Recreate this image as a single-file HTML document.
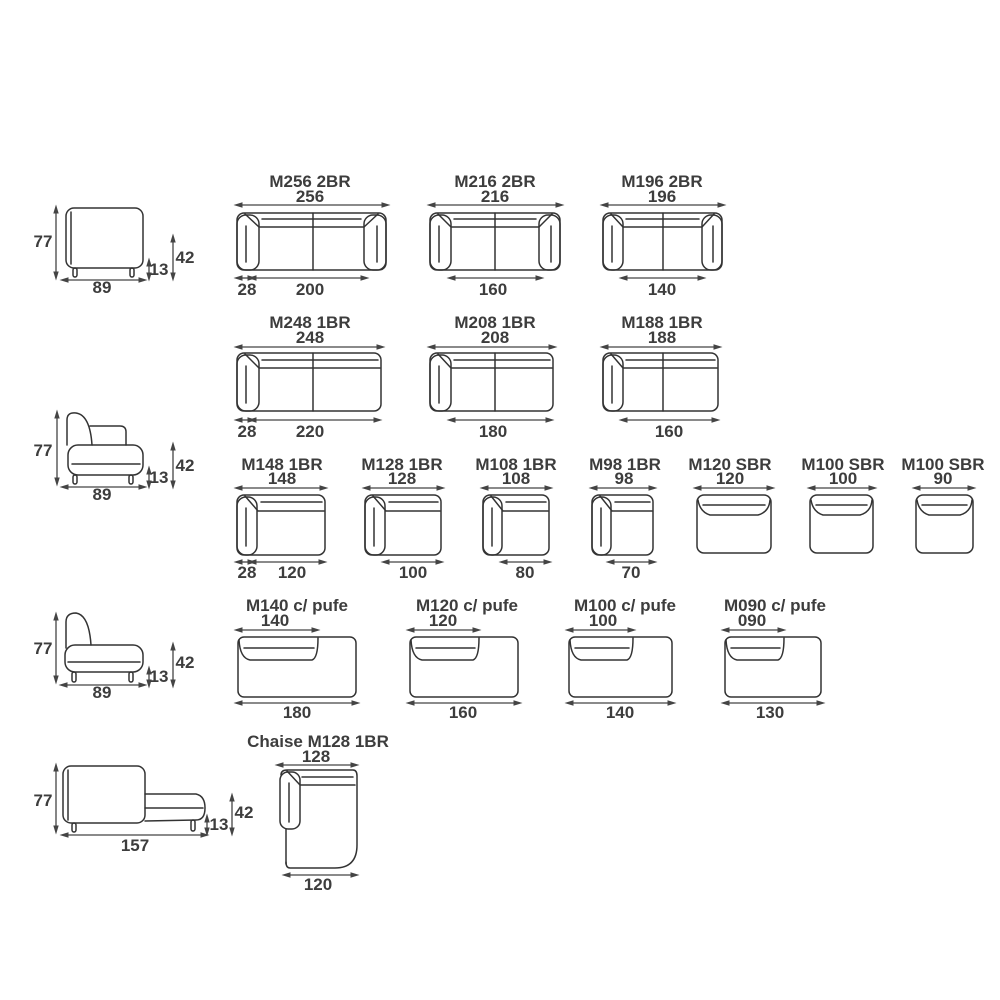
<!DOCTYPE html>
<html><head><meta charset="utf-8"><style>
html,body{margin:0;padding:0;background:#fff;}
svg{display:block}
text{font-family:"Liberation Sans Narrow","Liberation Sans",sans-serif;font-weight:bold;font-size:17px;fill:#3d3d3d;text-anchor:middle}
.s{fill:none;stroke:#333;stroke-width:1.5;stroke-linejoin:round;stroke-linecap:round}
.a{stroke:#444;stroke-width:1.3;marker-start:url(#m);marker-end:url(#m)}
</style></head><body>
<svg width="1000" height="1000" viewBox="0 0 1000 1000">
<defs><marker id="m" viewBox="0 0 10 10" refX="5" refY="5" markerWidth="7" markerHeight="7" orient="auto-start-reverse"><path d="M0,2 L10,5 L0,8 z" fill="#444"/></marker></defs>

<!-- SIDE VIEW 1 -->
<g class="s">
<rect x="66" y="208" width="77" height="60" rx="8"/>
<line x1="71" y1="212" x2="71" y2="264"/>
<rect x="73" y="268" width="4" height="9" rx="2"/>
<rect x="130" y="268" width="4" height="9" rx="2"/>
</g>
<line class="a" x1="56" y1="209" x2="56" y2="276"/>
<line class="a" x1="64" y1="280" x2="143" y2="280"/>
<line class="a" x1="149" y1="262" x2="149" y2="277"/>
<line class="a" x1="173" y1="238" x2="173" y2="277"/>
<text x="43" y="247">77</text><text x="102" y="293">89</text><text x="159" y="275">13</text><text x="185" y="263">42</text>

<!-- SIDE VIEW 2 -->
<g class="s">
<path d="M67,445 L67,420 Q67,412 76,413 Q90,415 92,445"/>
<path d="M90,426 L120,426 Q126,426 126,432 L126,445"/>
<rect x="68" y="445" width="75" height="30" rx="10"/>
<line x1="72" y1="464" x2="140" y2="464"/>
<rect x="73" y="475" width="4" height="9" rx="2"/>
<rect x="129" y="475" width="4" height="9" rx="2"/>
</g>
<line class="a" x1="57" y1="414" x2="57" y2="482"/>
<line class="a" x1="64" y1="487" x2="143" y2="487"/>
<line class="a" x1="149" y1="470" x2="149" y2="485"/>
<line class="a" x1="173" y1="446" x2="173" y2="485"/>
<text x="43" y="456">77</text><text x="102" y="500">89</text><text x="159" y="483">13</text><text x="185" y="471">42</text>

<!-- SIDE VIEW 3 -->
<g class="s">
<path d="M66,648 L66,622 Q66,613 76,613 Q89,615 91,645"/>
<rect x="65" y="645" width="78" height="27" rx="10"/>
<line x1="68" y1="662" x2="140" y2="662"/>
<rect x="72" y="672" width="4" height="10" rx="2"/>
<rect x="129" y="672" width="4" height="10" rx="2"/>
</g>
<line class="a" x1="56" y1="616" x2="56" y2="680"/>
<line class="a" x1="63" y1="685" x2="143" y2="685"/>
<line class="a" x1="149" y1="670" x2="149" y2="684"/>
<line class="a" x1="173" y1="646" x2="173" y2="684"/>
<text x="43" y="654">77</text><text x="102" y="698">89</text><text x="159" y="682">13</text><text x="185" y="668">42</text>

<!-- SIDE VIEW 4 chaise -->
<g class="s">
<rect x="63" y="766" width="82" height="57" rx="8"/>
<line x1="68" y1="770" x2="68" y2="820"/>
<path d="M145,794 L196,794 Q205,796 205,808 Q205,820 196,820 L145,821"/>
<line x1="145" y1="808" x2="203" y2="808"/>
<rect x="72" y="823" width="4" height="9" rx="2"/>
<rect x="191" y="820" width="4" height="11" rx="2"/>
</g>
<line class="a" x1="56" y1="767" x2="56" y2="830"/>
<line class="a" x1="64" y1="835" x2="205" y2="835"/>
<line class="a" x1="207" y1="818" x2="207" y2="832"/>
<line class="a" x1="232" y1="797" x2="232" y2="832"/>
<text x="43" y="806">77</text><text x="135" y="851">157</text><text x="219" y="830">13</text><text x="244" y="818">42</text>

<!-- ROW 1 -->
<text x="310" y="187">M256 2BR</text><text x="310" y="202">256</text>
<line class="a" x1="238" y1="205" x2="386" y2="205"/>
<g class="s">
<rect x="237" y="213" width="149" height="57" rx="7"/>
<rect x="237" y="215" width="22" height="55" rx="9"/><line x1="246" y1="226" x2="246" y2="262"/>
<rect x="364" y="215" width="22" height="55" rx="9"/><line x1="377" y1="226" x2="377" y2="262"/>
<path d="M245,214 L259,227 L364,227 L378,214"/><line x1="262" y1="219" x2="361" y2="219"/>
<line x1="313" y1="213" x2="313" y2="270"/>
</g>
<line class="a" x1="238" y1="278" x2="252" y2="278"/><line class="a" x1="252" y1="278" x2="365" y2="278"/>
<text x="247" y="295">28</text><text x="310" y="295">200</text>

<text x="495" y="187">M216 2BR</text><text x="495" y="202">216</text>
<line class="a" x1="431" y1="205" x2="560" y2="205"/>
<g class="s">
<rect x="430" y="213" width="130" height="57" rx="7"/>
<rect x="430" y="215" width="21" height="55" rx="9"/><line x1="439" y1="226" x2="439" y2="262"/>
<rect x="539" y="215" width="21" height="55" rx="9"/><line x1="551" y1="226" x2="551" y2="262"/>
<path d="M438,214 L451,227 L539,227 L552,214"/><line x1="454" y1="219" x2="536" y2="219"/>
<line x1="495" y1="213" x2="495" y2="270"/>
</g>
<line class="a" x1="451" y1="278" x2="540" y2="278"/>
<text x="493" y="295">160</text>

<text x="662" y="187">M196 2BR</text><text x="662" y="202">196</text>
<line class="a" x1="604" y1="205" x2="722" y2="205"/>
<g class="s">
<rect x="603" y="213" width="119" height="57" rx="7"/>
<rect x="603" y="215" width="20" height="55" rx="9"/><line x1="612" y1="226" x2="612" y2="262"/>
<rect x="702" y="215" width="20" height="55" rx="9"/><line x1="713" y1="226" x2="713" y2="262"/>
<path d="M611,214 L623,227 L702,227 L714,214"/><line x1="626" y1="219" x2="699" y2="219"/>
<line x1="663" y1="213" x2="663" y2="270"/>
</g>
<line class="a" x1="623" y1="278" x2="702" y2="278"/>
<text x="662" y="295">140</text>

<!-- ROW 2 -->
<text x="310" y="328">M248 1BR</text><text x="310" y="343">248</text>
<line class="a" x1="238" y1="347" x2="381" y2="347"/>
<g class="s">
<rect x="237" y="353" width="144" height="58" rx="7"/>
<rect x="237" y="355" width="22" height="56" rx="9"/><line x1="246" y1="366" x2="246" y2="403"/>
<path d="M245,354 L259,368 L380,368"/><line x1="262" y1="360" x2="378" y2="360"/>
<line x1="313" y1="353" x2="313" y2="411"/>
</g>
<line class="a" x1="238" y1="420" x2="252" y2="420"/><line class="a" x1="252" y1="420" x2="378" y2="420"/>
<text x="247" y="437">28</text><text x="310" y="437">220</text>

<text x="495" y="328">M208 1BR</text><text x="495" y="343">208</text>
<line class="a" x1="431" y1="347" x2="553" y2="347"/>
<g class="s">
<rect x="430" y="353" width="123" height="58" rx="7"/>
<rect x="430" y="355" width="21" height="56" rx="9"/><line x1="439" y1="366" x2="439" y2="403"/>
<path d="M438,354 L451,368 L552,368"/><line x1="454" y1="360" x2="550" y2="360"/>
<line x1="495" y1="353" x2="495" y2="411"/>
</g>
<line class="a" x1="451" y1="420" x2="550" y2="420"/>
<text x="493" y="437">180</text>

<text x="662" y="328">M188 1BR</text><text x="662" y="343">188</text>
<line class="a" x1="604" y1="347" x2="718" y2="347"/>
<g class="s">
<rect x="603" y="353" width="115" height="58" rx="7"/>
<rect x="603" y="355" width="20" height="56" rx="9"/><line x1="612" y1="366" x2="612" y2="403"/>
<path d="M611,354 L623,368 L717,368"/><line x1="626" y1="360" x2="715" y2="360"/>
<line x1="663" y1="353" x2="663" y2="411"/>
</g>
<line class="a" x1="623" y1="420" x2="716" y2="420"/>
<text x="669" y="437">160</text>

<!-- ROW 3 -->
<text x="282" y="470">M148 1BR</text><text x="282" y="484">148</text>
<line class="a" x1="238" y1="488" x2="324" y2="488"/>
<g class="s">
<rect x="237" y="495" width="88" height="60" rx="7"/>
<rect x="237" y="497" width="20" height="58" rx="9"/><line x1="246" y1="508" x2="246" y2="546"/>
<path d="M245,496 L258,511 L324,511"/><line x1="261" y1="502" x2="322" y2="502"/>
</g>
<line class="a" x1="238" y1="562" x2="252" y2="562"/><line class="a" x1="252" y1="562" x2="323" y2="562"/>
<text x="247" y="578">28</text><text x="292" y="578">120</text>

<text x="402" y="470">M128 1BR</text><text x="402" y="484">128</text>
<line class="a" x1="366" y1="488" x2="441" y2="488"/>
<g class="s">
<rect x="365" y="495" width="76" height="60" rx="7"/>
<rect x="365" y="497" width="20" height="58" rx="9"/><line x1="374" y1="508" x2="374" y2="546"/>
<path d="M373,496 L386,511 L440,511"/><line x1="389" y1="502" x2="438" y2="502"/>
</g>
<line class="a" x1="385" y1="562" x2="440" y2="562"/>
<text x="413" y="578">100</text>

<text x="516" y="470">M108 1BR</text><text x="516" y="484">108</text>
<line class="a" x1="484" y1="488" x2="549" y2="488"/>
<g class="s">
<rect x="483" y="495" width="66" height="60" rx="7"/>
<rect x="483" y="497" width="19" height="58" rx="9"/><line x1="492" y1="508" x2="492" y2="546"/>
<path d="M491,496 L503,511 L548,511"/><line x1="506" y1="502" x2="546" y2="502"/>
</g>
<line class="a" x1="503" y1="562" x2="548" y2="562"/>
<text x="525" y="578">80</text>

<text x="625" y="470">M98 1BR</text><text x="624" y="484">98</text>
<line class="a" x1="593" y1="488" x2="653" y2="488"/>
<g class="s">
<rect x="592" y="495" width="61" height="60" rx="7"/>
<rect x="592" y="497" width="19" height="58" rx="9"/><line x1="601" y1="508" x2="601" y2="546"/>
<path d="M600,496 L612,511 L652,511"/><line x1="615" y1="502" x2="650" y2="502"/>
</g>
<line class="a" x1="610" y1="562" x2="653" y2="562"/>
<text x="631" y="578">70</text>

<text x="730" y="470">M120 SBR</text><text x="730" y="484">120</text>
<line class="a" x1="697" y1="488" x2="771" y2="488"/>
<g class="s">
<rect x="697" y="495" width="74" height="58" rx="7"/>
<path d="M698,500 Q700,512 710,515 L758,515 Q769,512 770,500"/><line x1="703" y1="505" x2="765" y2="505"/>
</g>

<text x="843" y="470">M100 SBR</text><text x="843" y="484">100</text>
<line class="a" x1="811" y1="488" x2="873" y2="488"/>
<g class="s">
<rect x="810" y="495" width="63" height="58" rx="7"/>
<path d="M811,500 Q813,512 823,515 L860,515 Q871,512 872,500"/><line x1="816" y1="505" x2="867" y2="505"/>
</g>

<text x="943" y="470">M100 SBR</text><text x="943" y="484">90</text>
<line class="a" x1="916" y1="488" x2="972" y2="488"/>
<g class="s">
<rect x="916" y="495" width="57" height="58" rx="7"/>
<path d="M917,500 Q919,512 929,515 L960,515 Q971,512 972,500"/><line x1="922" y1="505" x2="967" y2="505"/>
</g>

<!-- ROW 4 -->
<text x="297" y="611">M140 c/ pufe</text><text x="275" y="626">140</text>
<line class="a" x1="238" y1="630" x2="316" y2="630"/>
<g class="s">
<rect x="238" y="637" width="118" height="60" rx="6"/>
<path d="M239,640 Q240,658 250,660 L312,660 Q318,658 318,638"/><line x1="244" y1="648" x2="314" y2="648"/>
</g>
<line class="a" x1="238" y1="703" x2="356" y2="703"/>
<text x="297" y="718">180</text>

<text x="467" y="611">M120 c/ pufe</text><text x="443" y="626">120</text>
<line class="a" x1="410" y1="630" x2="477" y2="630"/>
<g class="s">
<rect x="410" y="637" width="108" height="60" rx="6"/>
<path d="M411,640 Q412,658 422,660 L473,660 Q479,658 479,638"/><line x1="416" y1="648" x2="475" y2="648"/>
</g>
<line class="a" x1="410" y1="703" x2="518" y2="703"/>
<text x="463" y="718">160</text>

<text x="625" y="611">M100 c/ pufe</text><text x="603" y="626">100</text>
<line class="a" x1="569" y1="630" x2="632" y2="630"/>
<g class="s">
<rect x="569" y="637" width="103" height="60" rx="6"/>
<path d="M570,640 Q571,658 581,660 L627,660 Q633,658 633,638"/><line x1="575" y1="648" x2="629" y2="648"/>
</g>
<line class="a" x1="569" y1="703" x2="672" y2="703"/>
<text x="620" y="718">140</text>

<text x="775" y="611">M090 c/ pufe</text><text x="752" y="626">090</text>
<line class="a" x1="725" y1="630" x2="782" y2="630"/>
<g class="s">
<rect x="725" y="637" width="96" height="60" rx="6"/>
<path d="M726,640 Q727,658 737,660 L778,660 Q784,658 784,638"/><line x1="731" y1="648" x2="780" y2="648"/>
</g>
<line class="a" x1="725" y1="703" x2="821" y2="703"/>
<text x="770" y="718">130</text>

<!-- ROW 5 Chaise -->
<text x="318" y="747">Chaise M128 1BR</text><text x="316" y="762">128</text>
<line class="a" x1="279" y1="765" x2="355" y2="765"/>
<g class="s">
<path d="M281,775 Q281,770 287,770 L353,770 Q357,770 357,776 L357,845 Q357,868 335,868 L290,868 Q286,868 286,862"/>
<rect x="280" y="772" width="20" height="57" rx="8"/><line x1="289" y1="783" x2="289" y2="822"/>
<path d="M287,771 L300,785 L355,785"/><line x1="302" y1="777" x2="353" y2="777"/>
<line x1="286" y1="829" x2="286" y2="864"/>
</g>
<line class="a" x1="286" y1="875" x2="355" y2="875"/>
<text x="318" y="890">120</text>
</svg>
</body></html>
